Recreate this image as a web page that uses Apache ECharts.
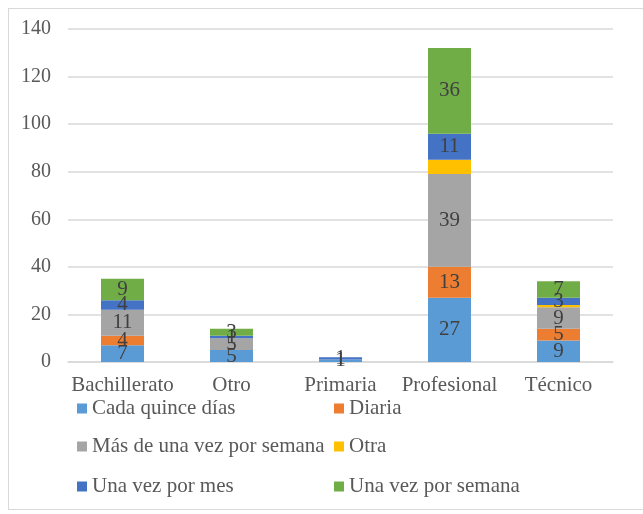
<!DOCTYPE html>
<html>
<head>
<meta charset="utf-8">
<script src="https://cdn.jsdelivr.net/npm/echarts@6/dist/echarts.min.js"></script>
<style>
  html, body { margin: 0; padding: 0; background: #fff; }
  #frame { position: absolute; left: 8px; top: 8px; width: 640px; height: 502px; border: 1px solid #d9d9d9; box-sizing: border-box; }
  #chart { position: absolute; left: 0; top: 0; width: 643px; height: 514px; }
</style>
</head>
<body>
<div id="frame"></div>
<div id="chart"></div>
<script>
const categories = ['Bachillerato', 'Otro', 'Primaria', 'Profesional', 'Técnico']
const seriesNames = ['Cada quince días', 'Diaria', 'Más de una vez por semana', 'Otra', 'Una vez por mes', 'Una vez por semana']
const cadaQuince = [7, 5, 1, 27, 9]
const diaria = [4, 0, 0, 13, 5]
const masDeUna = [11, 5, 0, 39, 9]
const otra = [0, 0, 0, 6, 1]
const unaVezMes = [4, 1, 1, 11, 3]
const unaVezSemana = [9, 3, 0, 36, 7]
const yTicks = { min: 0, max: 140, interval: 20 }

const colors = ['#5b9bd5', '#ed7d31', '#a5a5a5', '#ffc000', '#4472c4', '#70ad47']
const values = [cadaQuince, diaria, masDeUna, otra, unaVezMes, unaVezSemana]
const font = 'Liberation Serif'

// legend placed in two columns, three rows (one component per item)
const legendSpots = [[77, 398], [334, 398], [77, 436], [334, 436], [77, 476], [334, 476]]
const legends = seriesNames.map((name, i) => ({
  left: legendSpots[i][0], top: legendSpots[i][1], padding: 0,
  itemWidth: 10, itemHeight: 10, icon: 'rect',
  textStyle: { fontFamily: font, fontSize: 21, color: '#595959' },
  data: [name]
}))

const chart = echarts.init(document.getElementById('chart'))
chart.setOption({
  animation: false,
  grid: { left: 68, right: 30, top: 29, bottom: 152 },
  legend: legends,
  xAxis: {
    type: 'category',
    data: categories,
    axisLine: { lineStyle: { color: '#d9d9d9', width: 1.5 } },
    axisTick: { show: false },
    axisLabel: { interval: 0, fontFamily: font, fontSize: 21, color: '#595959', margin: 13 }
  },
  yAxis: {
    type: 'value',
    min: yTicks.min, max: yTicks.max, interval: yTicks.interval,
    axisLine: { show: false },
    axisTick: { show: false },
    axisLabel: { fontFamily: font, fontSize: 20, color: '#595959', margin: 17 },
    splitLine: { lineStyle: { color: '#d9d9d9', width: 1.5 } }
  },
  series: seriesNames.map((name, i) => ({
    name,
    type: 'bar',
    stack: 'total',
    barWidth: 43,
    data: values[i],
    itemStyle: { color: colors[i] },
    label: {
      show: name !== 'Otra',
      position: 'inside',
      fontFamily: font,
      fontSize: 21,
      color: '#404040',
      formatter: p => (p.value ? String(p.value) : '')
    }
  }))
})
</script>
</body>
</html>
